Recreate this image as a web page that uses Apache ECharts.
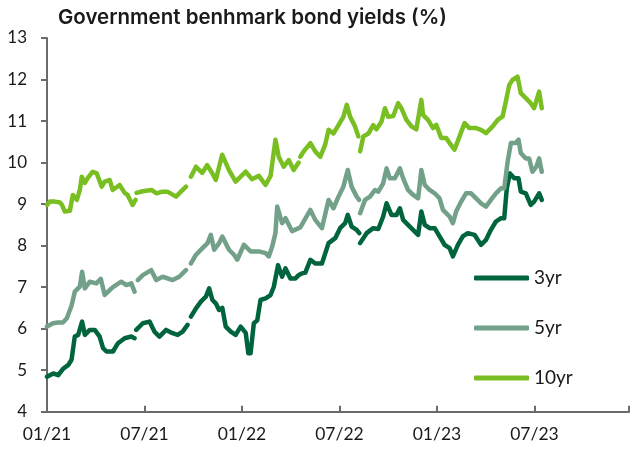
<!DOCTYPE html>
<html>
<head>
<meta charset="utf-8">
<script src="https://cdn.jsdelivr.net/npm/echarts@6/dist/echarts.min.js"></script>
<style>
html,body{margin:0;padding:0;background:#fff;}
#chart{width:632px;height:452px;}
</style>
</head>
<body>
<div id="chart"></div>
<script>
// x values: months since Jan 2021
const xLabels = ['01/21','07/21','01/22','07/22','01/23','07/23'];

const yr3T = [0,0.39,0.69,1.0,1.30,1.51,1.71,1.92,2.16,2.33,2.63,2.94,3.24,3.45,3.66,4.06,4.37,4.78,5.19,5.39,5.45,5.49,5.90,6.31,6.61,6.92,7.33,7.73,8.04,8.35,8.65,8.76,8.86,9.17,9.47,9.78,9.98,10.18,10.39,10.59,10.79,11.0,11.31,11.61,11.92,12.23,12.39,12.53,12.73,12.94,13.14,13.45,13.76,13.96,14.22,14.47,14.68,14.98,15.29,15.49,15.69,15.90,16.21,16.51,16.92,17.33,17.74,18.04,18.35,18.51,18.75,19.06,19.22,19.25,19.27,19.67,20.08,20.39,20.69,20.90,21.20,21.51,21.72,21.92,22.22,22.53,22.84,23.04,23.25,23.55,23.86,24.16,24.47,24.78,24.98,25.29,25.59,25.90,26.31,26.71,27.02,27.32,27.63,27.94,28.14,28.30,28.49,28.76,29.02,29.16,29.47,29.77,29.98,30.29,30.45];
const yr3V = [4.84,4.92,4.88,5.04,5.12,5.25,5.81,5.85,6.17,5.85,5.97,5.97,5.81,5.53,5.45,5.45,5.65,5.77,5.81,5.77,null,5.97,6.13,6.17,5.93,5.81,5.97,5.89,5.85,5.93,6.09,null,6.29,6.49,6.65,6.77,6.97,6.69,6.61,6.45,6.50,6.05,5.93,5.85,6.05,5.90,5.41,5.41,6.13,6.20,6.69,6.73,6.81,7.01,7.53,7.25,7.45,7.21,7.21,7.29,7.33,7.35,7.66,7.57,7.57,8.06,8.18,8.42,8.54,8.74,8.46,8.38,8.30,null,8.06,8.30,8.42,8.40,8.70,9.02,8.74,8.74,8.90,8.62,8.50,8.38,8.26,8.82,8.50,8.42,8.42,8.22,8.02,7.94,7.74,8.02,8.22,8.30,8.26,8.02,8.14,8.38,8.58,8.66,8.66,9.38,9.74,9.62,9.62,9.30,9.26,8.98,9.06,9.26,9.10];

const yr5T = [0,0.37,0.67,0.98,1.22,1.51,1.71,2.02,2.16,2.33,2.63,3.04,3.31,3.55,3.86,4.06,4.57,4.88,5.19,5.39,5.48,5.59,5.90,6.41,6.72,7.12,7.73,8.14,8.55,8.69,8.86,9.17,9.57,9.88,10.08,10.29,10.59,10.79,11.20,11.51,11.71,12.12,12.53,13.04,13.45,13.65,13.86,14.06,14.17,14.47,14.68,15.08,15.59,16.21,16.51,16.92,17.33,17.63,17.94,18.24,18.51,18.75,19.06,19.21,19.24,19.27,19.57,19.88,20.19,20.39,20.69,20.90,21.10,21.41,21.72,21.92,22.22,22.53,22.84,23.04,23.25,23.55,23.86,24.16,24.37,24.78,24.98,25.18,25.49,25.79,26.10,26.41,26.71,27.02,27.32,27.63,27.94,28.14,28.35,28.55,28.85,29.02,29.16,29.47,29.67,29.88,30.12,30.29,30.45];
const yr5V = [6.05,6.13,6.15,6.15,6.25,6.55,6.89,7.01,7.37,6.97,7.13,7.09,7.20,6.81,6.93,7.00,7.13,7.05,7.09,6.89,null,7.17,7.29,7.41,7.17,7.25,7.17,7.25,7.41,null,7.57,7.78,7.94,8.06,8.26,7.90,8.06,8.22,7.90,7.78,7.66,8.02,7.86,7.86,7.82,7.74,7.98,8.30,8.94,8.54,8.66,8.35,8.44,8.86,8.62,8.42,9.10,8.90,9.18,9.42,9.82,9.42,9.18,9.10,null,8.78,9.10,9.18,9.34,9.30,9.50,9.86,9.62,9.62,9.86,9.62,9.34,9.22,9.14,9.82,9.46,9.34,9.26,9.14,8.86,8.70,8.54,8.82,9.06,9.26,9.26,9.14,9.02,8.94,9.10,9.26,9.38,9.38,10.02,10.47,10.47,10.55,10.23,10.10,10.10,9.78,9.90,10.10,9.78];

const yr10T = [0,0.18,0.49,0.80,0.92,1.10,1.41,1.59,1.84,2.02,2.14,2.33,2.51,2.82,3.06,3.37,3.55,3.86,4.04,4.47,4.78,4.96,5.27,5.45,5.48,5.51,5.88,6.43,6.74,7.10,7.41,7.94,8.55,8.69,8.86,9.17,9.55,9.86,10.16,10.39,10.78,11.20,11.61,12.23,12.61,13.04,13.45,13.76,14.06,14.26,14.57,14.88,15.18,15.49,15.55,15.59,15.80,16.21,16.51,16.82,17.12,17.33,17.63,17.94,18.24,18.45,18.66,18.96,19.16,19.22,19.27,19.47,19.78,20.08,20.28,20.59,20.80,21.00,21.31,21.61,21.81,22.12,22.43,22.73,22.84,23.04,23.14,23.45,23.76,23.96,24.26,24.57,24.78,25.08,25.39,25.70,26.00,26.41,26.71,27.02,27.43,27.74,28.04,28.24,28.45,28.65,28.96,29.16,29.47,29.77,29.98,30.29,30.45];
const yr10V = [8.98,9.06,9.06,9.04,8.98,8.82,8.84,9.22,9.10,9.34,9.66,9.51,9.63,9.78,9.74,9.42,9.54,9.58,9.34,9.46,9.27,9.22,8.98,9.10,null,9.27,9.31,9.34,9.26,9.30,9.30,9.18,9.42,null,9.66,9.90,9.75,9.94,9.75,9.58,10.19,9.82,9.54,9.78,9.60,9.68,9.46,9.68,10.55,10.14,9.90,10.06,9.82,10.00,null,10.14,10.27,10.47,10.27,10.14,10.43,10.79,10.70,10.90,11.10,11.39,11.10,10.87,10.63,null,10.27,10.63,10.70,10.90,10.80,10.99,11.31,11.10,11.12,11.43,11.31,11.03,10.87,10.80,10.83,11.51,11.15,11.03,10.83,10.91,10.59,10.59,10.47,10.31,10.63,10.95,10.83,10.83,10.79,10.71,10.87,11.03,11.11,11.47,11.87,11.99,12.07,11.67,11.55,11.43,11.31,11.71,11.31];

const seriesNames = ['3yr','5yr','10yr'];
const seriesColors = ['#00653c','#72a088','#7abf22'];

function pairs(T, V){ return T.map((t,i)=>[t, V[i]===null ? '-' : V[i]]); }

const FONT = 'Lato';
const chart = echarts.init(document.getElementById('chart'), null, {renderer:'canvas'});
const lines = [[yr3T,yr3V],[yr5T,yr5V],[yr10T,yr10V]];
chart.setOption({
  animation:false,
  backgroundColor:'#fff',
  title:{
    text:'Government benhmark bond yields (%)',
    left:58, top:7, padding:0,
    textStyle:{fontFamily:'Inter', fontSize:20.5, fontWeight:600, color:'#1a1a1a', lineHeight:22}
  },
  legend:{
    orient:'vertical', left:474, top:268, padding:0,
    itemWidth:55, itemHeight:5, itemGap:30,
    icon:'roundRect',
    data:seriesNames,
    textStyle:{fontFamily:FONT, fontSize:19, color:'#1a1a1a', lineHeight:20, padding:[0,0,0,0]}
  },
  grid:{left:47, right:0, top:38, bottom:40.3, containLabel:false},
  xAxis:{
    type:'value', min:0, max:35.82, interval:6,
    axisLine:{lineStyle:{color:'#6b6b6b', width:2}},
    axisTick:{inside:true, length:6, lineStyle:{color:'#6b6b6b', width:2}},
    splitLine:{show:false},
    axisLabel:{fontFamily:FONT, fontSize:17.5, color:'#1a1a1a', margin:14,
      formatter:v=>{const k=Math.round(v/6); return (Math.abs(v-k*6)<1e-6 && xLabels[k]) ? xLabels[k] : '';}}
  },
  yAxis:{
    type:'value', min:4, max:13, interval:1,
    axisLine:{show:true, lineStyle:{color:'#6b6b6b', width:2}},
    axisTick:{show:true, length:6, lineStyle:{color:'#6b6b6b', width:2}},
    splitLine:{show:false},
    axisLabel:{fontFamily:FONT, fontSize:17, color:'#1a1a1a', margin:20}
  },
  series: lines.map((p,i)=>({
    name:seriesNames[i], type:'line', symbol:'none', showSymbol:false,
    data:pairs(p[0],p[1]),
    color:seriesColors[i],
    lineStyle:{width:4.5, color:seriesColors[i], cap:'round', join:'round'},
    itemStyle:{color:seriesColors[i]}
  }))
});
</script>
</body>
</html>
